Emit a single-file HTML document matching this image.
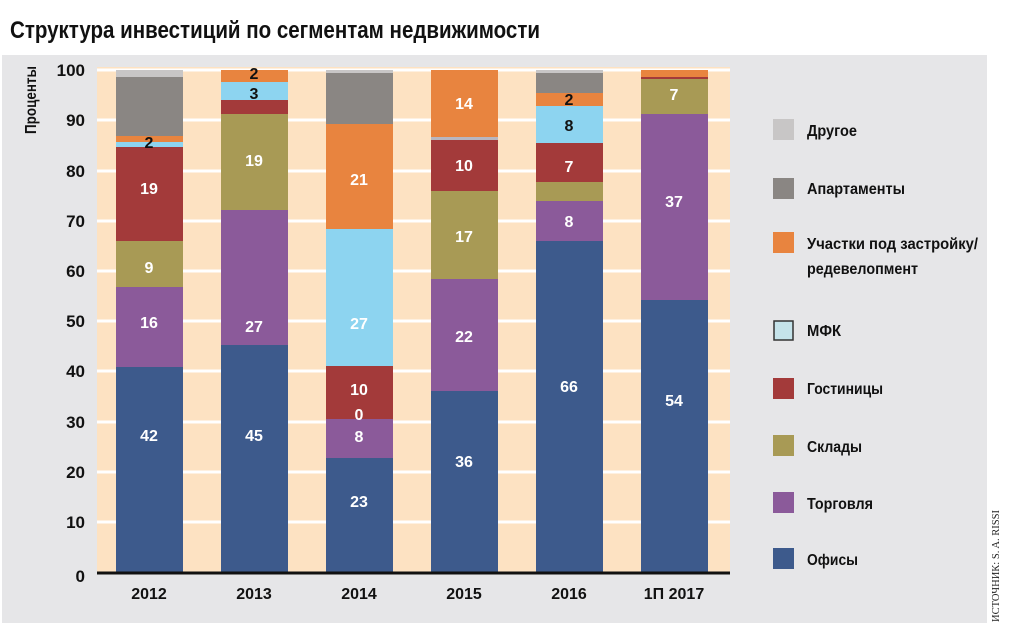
<!DOCTYPE html>
<html><head><meta charset="utf-8"><style>
html,body{margin:0;padding:0;background:#fff;}
svg{display:block;}
text{font-family:"Liberation Sans",sans-serif;font-weight:bold;}
</style></head><body>
<svg width="1024" height="640" viewBox="0 0 1024 640" xmlns="http://www.w3.org/2000/svg">
<rect x="0" y="0" width="1024" height="640" fill="#fff"/>
<text x="10" y="38" font-size="24" fill="#111" textLength="530" lengthAdjust="spacingAndGlyphs">Структура инвестиций по сегментам недвижимости</text>
<rect x="2" y="55" width="985" height="568" fill="#e6e6e8"/>
<rect x="97" y="67" width="633" height="506" fill="#fde2c2"/>
<g stroke="#fff" stroke-width="3">
<line x1="97" x2="730" y1="70" y2="70"/><line x1="97" x2="730" y1="120" y2="120"/><line x1="97" x2="730" y1="171" y2="171"/><line x1="97" x2="730" y1="221" y2="221"/><line x1="97" x2="730" y1="271" y2="271"/><line x1="97" x2="730" y1="321" y2="321"/><line x1="97" x2="730" y1="371" y2="371"/><line x1="97" x2="730" y1="422" y2="422"/><line x1="97" x2="730" y1="472" y2="472"/><line x1="97" x2="730" y1="522" y2="522"/>
</g>
<!-- 2012 -->
<g>
<rect x="116" y="367" width="67" height="205" fill="#3d5a8c"/>
<rect x="116" y="287" width="67" height="80" fill="#8b5a9a"/>
<rect x="116" y="241" width="67" height="46" fill="#a89a55"/>
<rect x="116" y="147" width="67" height="94" fill="#a33a3a"/>
<rect x="116" y="142" width="67" height="5" fill="#8dd4f0"/>
<rect x="116" y="136" width="67" height="6" fill="#e8843f"/>
<rect x="116" y="77" width="67" height="59" fill="#8a8683"/>
<rect x="116" y="70" width="67" height="7" fill="#c8c6c6"/>
</g>
<g>
<rect x="221" y="345" width="67" height="227" fill="#3d5a8c"/>
<rect x="221" y="210" width="67" height="135" fill="#8b5a9a"/>
<rect x="221" y="114" width="67" height="96" fill="#a89a55"/>
<rect x="221" y="100" width="67" height="14" fill="#a33a3a"/>
<rect x="221" y="82" width="67" height="18" fill="#8dd4f0"/>
<rect x="221" y="70" width="67" height="12" fill="#e8843f"/>
</g>
<g>
<rect x="326" y="458" width="67" height="114" fill="#3d5a8c"/>
<rect x="326" y="419" width="67" height="39" fill="#8b5a9a"/>
<rect x="326" y="366" width="67" height="53" fill="#a33a3a"/>
<rect x="326" y="229" width="67" height="137" fill="#8dd4f0"/>
<rect x="326" y="124" width="67" height="105" fill="#e8843f"/>
<rect x="326" y="73" width="67" height="51" fill="#8a8683"/>
<rect x="326" y="70" width="67" height="3" fill="#c8c6c6"/>
</g>
<g>
<rect x="431" y="391" width="67" height="181" fill="#3d5a8c"/>
<rect x="431" y="279" width="67" height="112" fill="#8b5a9a"/>
<rect x="431" y="191" width="67" height="88" fill="#a89a55"/>
<rect x="431" y="140" width="67" height="51" fill="#a33a3a"/>
<rect x="431" y="137" width="67" height="3" fill="#b8b6c0"/>
<rect x="431" y="70" width="67" height="67" fill="#e8843f"/>
</g>
<g>
<rect x="536" y="241" width="67" height="331" fill="#3d5a8c"/>
<rect x="536" y="201" width="67" height="40" fill="#8b5a9a"/>
<rect x="536" y="182" width="67" height="19" fill="#a89a55"/>
<rect x="536" y="143" width="67" height="39" fill="#a33a3a"/>
<rect x="536" y="106" width="67" height="37" fill="#8dd4f0"/>
<rect x="536" y="93" width="67" height="13" fill="#e8843f"/>
<rect x="536" y="73" width="67" height="20" fill="#8a8683"/>
<rect x="536" y="70" width="67" height="3" fill="#c8c6c6"/>
</g>
<g>
<rect x="641" y="300" width="67" height="272" fill="#3d5a8c"/>
<rect x="641" y="114" width="67" height="186" fill="#8b5a9a"/>
<rect x="641" y="79" width="67" height="35" fill="#a89a55"/>
<rect x="641" y="77" width="67" height="2" fill="#a33a3a"/>
<rect x="641" y="70" width="67" height="7" fill="#e8843f"/>
</g>
<line x1="97" x2="730" y1="573" y2="573" stroke="#111" stroke-width="3"/>
<g font-size="16" text-anchor="middle" fill="#fff" transform="translate(0,6)">
<text x="149" y="435">42</text><text x="149" y="322">16</text><text x="149" y="267">9</text><text x="149" y="188">19</text><text x="149" y="142" fill="#111">2</text>
<text x="254" y="435">45</text><text x="254" y="326">27</text><text x="254" y="160">19</text><text x="254" y="93" fill="#111">3</text><text x="254" y="73" fill="#111">2</text>
<text x="359" y="501">23</text><text x="359" y="436">8</text><text x="359" y="414">0</text><text x="359" y="389">10</text><text x="359" y="323">27</text><text x="359" y="179">21</text>
<text x="464" y="461">36</text><text x="464" y="336">22</text><text x="464" y="236">17</text><text x="464" y="165">10</text><text x="464" y="103">14</text>
<text x="569" y="386">66</text><text x="569" y="221">8</text><text x="569" y="166">7</text><text x="569" y="125" fill="#111">8</text><text x="569" y="99" fill="#111">2</text>
<text x="674" y="400">54</text><text x="674" y="201">37</text><text x="674" y="94">7</text>
</g>
<g font-size="17" text-anchor="end" fill="#111">
<text x="85" y="76">100</text><text x="85" y="126">90</text><text x="85" y="177">80</text><text x="85" y="227">70</text><text x="85" y="277">60</text><text x="85" y="327">50</text><text x="85" y="377">40</text><text x="85" y="428">30</text><text x="85" y="478">20</text><text x="85" y="528">10</text><text x="85" y="582">0</text>
</g>
<text transform="translate(36,134) rotate(-90)" font-size="16" fill="#111" textLength="68" lengthAdjust="spacingAndGlyphs">Проценты</text>
<g font-size="16" text-anchor="middle" fill="#111">
<text x="149" y="599">2012</text><text x="254" y="599">2013</text><text x="359" y="599">2014</text><text x="464" y="599">2015</text><text x="569" y="599">2016</text><text x="674" y="599">1П 2017</text>
</g>
<g>
<rect x="773" y="119" width="21" height="21" fill="#c8c6c6"/>
<rect x="773" y="178" width="21" height="21" fill="#8a8683"/>
<rect x="773" y="232" width="21" height="21" fill="#e8843f"/>
<rect x="774" y="321" width="19" height="19" fill="#c5e3ea" stroke="#333" stroke-width="1.5"/>
<rect x="773" y="378" width="21" height="21" fill="#a33a3a"/>
<rect x="773" y="435" width="21" height="21" fill="#a89a55"/>
<rect x="773" y="492" width="21" height="21" fill="#8b5a9a"/>
<rect x="773" y="548" width="21" height="21" fill="#3d5a8c"/>
</g>
<g font-size="16" fill="#111">
<text x="807" y="136" textLength="50" lengthAdjust="spacingAndGlyphs">Другое</text>
<text x="807" y="194" textLength="98" lengthAdjust="spacingAndGlyphs">Апартаменты</text>
<text x="807" y="249" textLength="171" lengthAdjust="spacingAndGlyphs">Участки под застройку/</text>
<text x="807" y="274" textLength="111" lengthAdjust="spacingAndGlyphs">редевелопмент</text>
<text x="807" y="336" textLength="34" lengthAdjust="spacingAndGlyphs">МФК</text>
<text x="807" y="394" textLength="76" lengthAdjust="spacingAndGlyphs">Гостиницы</text>
<text x="807" y="452" textLength="55" lengthAdjust="spacingAndGlyphs">Склады</text>
<text x="807" y="509" textLength="66" lengthAdjust="spacingAndGlyphs">Торговля</text>
<text x="807" y="565" textLength="51" lengthAdjust="spacingAndGlyphs">Офисы</text>
</g>
<text transform="translate(999,622) rotate(-90)" font-size="11" font-weight="normal" style="font-family:'Liberation Serif',serif;font-weight:normal" fill="#222" textLength="112" lengthAdjust="spacingAndGlyphs">ИСТОЧНИК: S. A. RISSI</text>
</svg>
</body></html>
